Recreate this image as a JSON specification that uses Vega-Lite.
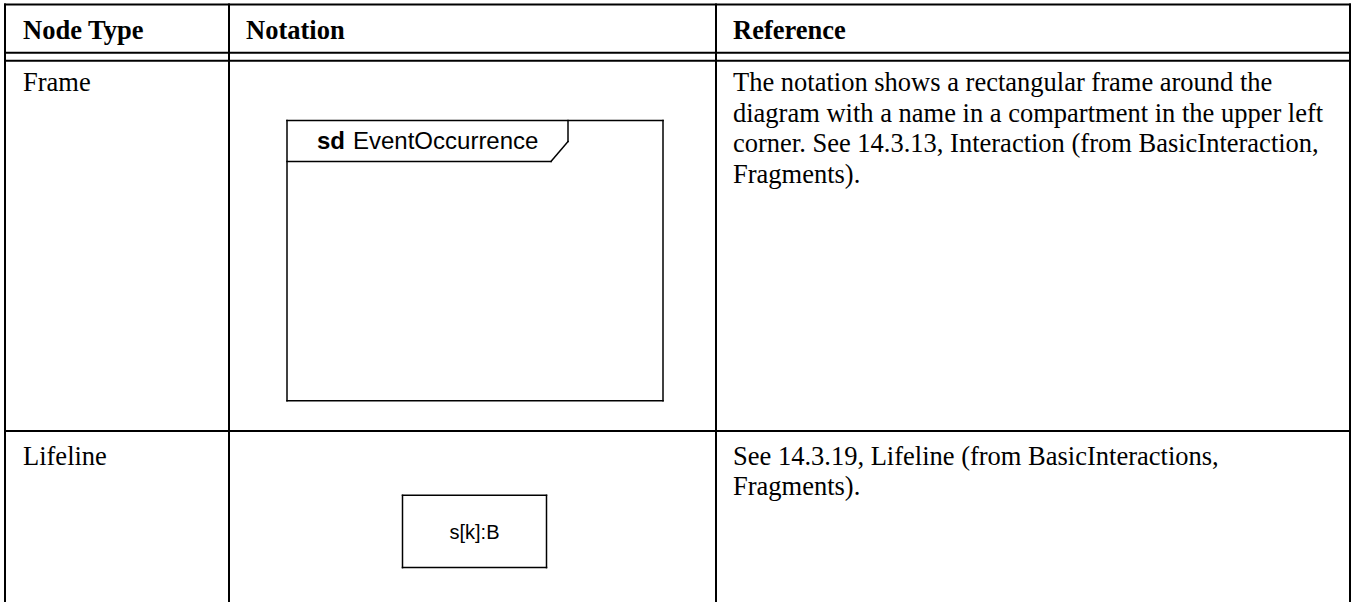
{
  "$schema": "https://vega.github.io/schema/vega-lite/v6.json",
  "width": 1354,
  "height": 603,
  "padding": 0,
  "autosize": {"type": "fit", "contains": "padding"},
  "background": "white",
  "config": {"view": {"stroke": null}},
  "datasets": {
    "grid": [
      {"x": 5, "x2": 1350, "y": 4.5, "y2": 4.5},
      {"x": 5, "x2": 1350, "y": 53, "y2": 53},
      {"x": 5, "x2": 1350, "y": 61, "y2": 61},
      {"x": 5, "x2": 1350, "y": 432.5, "y2": 432.5},
      {"x": 5, "x2": 5, "y": 4.5, "y2": 603},
      {"x": 229, "x2": 229, "y": 4.5, "y2": 603},
      {"x": 716, "x2": 716, "y": 4.5, "y2": 603},
      {"x": 1350, "x2": 1350, "y": 4.5, "y2": 603}
    ],
    "shapes": [
      {"x": 287, "x2": 663, "y": 121, "y2": 121},
      {"x": 287, "x2": 663, "y": 402, "y2": 402},
      {"x": 287, "x2": 287, "y": 121, "y2": 402},
      {"x": 663, "x2": 663, "y": 121, "y2": 402},
      {"x": 287, "x2": 551, "y": 162, "y2": 162},
      {"x": 568, "x2": 568, "y": 121, "y2": 142},
      {"x": 568, "x2": 551, "y": 142, "y2": 162},
      {"x": 402.5, "x2": 546.5, "y": 497, "y2": 497},
      {"x": 402.5, "x2": 546.5, "y": 569.5, "y2": 569.5},
      {"x": 402.5, "x2": 402.5, "y": 497, "y2": 569.5},
      {"x": 546.5, "x2": 546.5, "y": 497, "y2": 569.5}
    ],
    "header": [
      {"text": "Node Type", "x": 23, "y": 39},
      {"text": "Notation", "x": 246, "y": 39},
      {"text": "Reference", "x": 733, "y": 39}
    ],
    "body": [
      {"text": "Frame", "x": 23, "y": 91},
      {"text": "The notation shows a rectangular frame around the", "x": 733, "y": 91},
      {"text": "diagram with a name in a compartment in the upper left", "x": 733, "y": 122},
      {"text": "corner. See 14.3.13, Interaction (from BasicInteraction,", "x": 733, "y": 153},
      {"text": "Fragments).", "x": 733, "y": 184},
      {"text": "Lifeline", "x": 23, "y": 467},
      {"text": "See 14.3.19, Lifeline (from BasicInteractions,", "x": 733, "y": 467},
      {"text": "Fragments).", "x": 733, "y": 497}
    ],
    "diagramBold": [
      {"text": "sd", "x": 317, "y": 149}
    ],
    "diagramText": [
      {"text": "EventOccurrence", "x": 353, "y": 149}
    ],
    "lifeline": [
      {"text": "s[k]:B", "x": 474.5, "y": 541}
    ]
  },
  "layer": [
    {
      "data": {"name": "grid"},
      "mark": {"type": "rule", "stroke": "black", "strokeWidth": 2, "strokeCap": "square"},
      "encoding": {
        "x": {"field": "x", "type": "quantitative", "scale": {"domain": [0, 1354], "nice": false, "zero": false}, "axis": null},
        "x2": {"field": "x2"},
        "y": {"field": "y", "type": "quantitative", "scale": {"domain": [0, 603], "nice": false, "zero": false, "reverse": true}, "axis": null},
        "y2": {"field": "y2"}
      }
    },
    {
      "data": {"name": "shapes"},
      "mark": {"type": "rule", "stroke": "black", "strokeWidth": 1.5, "strokeCap": "square"},
      "encoding": {
        "x": {"field": "x", "type": "quantitative", "scale": {"domain": [0, 1354], "nice": false, "zero": false}, "axis": null},
        "x2": {"field": "x2"},
        "y": {"field": "y", "type": "quantitative", "scale": {"domain": [0, 603], "nice": false, "zero": false, "reverse": true}, "axis": null},
        "y2": {"field": "y2"}
      }
    },
    {
      "data": {"name": "header"},
      "mark": {"type": "text", "align": "left", "baseline": "alphabetic", "font": "Liberation Serif", "fontWeight": "bold", "fontSize": 26.5, "color": "black"},
      "encoding": {
        "x": {"field": "x", "type": "quantitative", "scale": {"domain": [0, 1354], "nice": false, "zero": false}, "axis": null},
        "y": {"field": "y", "type": "quantitative", "scale": {"domain": [0, 603], "nice": false, "zero": false, "reverse": true}, "axis": null},
        "text": {"field": "text"}
      }
    },
    {
      "data": {"name": "body"},
      "mark": {"type": "text", "align": "left", "baseline": "alphabetic", "font": "Liberation Serif", "fontSize": 26.5, "color": "black"},
      "encoding": {
        "x": {"field": "x", "type": "quantitative", "scale": {"domain": [0, 1354], "nice": false, "zero": false}, "axis": null},
        "y": {"field": "y", "type": "quantitative", "scale": {"domain": [0, 603], "nice": false, "zero": false, "reverse": true}, "axis": null},
        "text": {"field": "text"}
      }
    },
    {
      "data": {"name": "diagramBold"},
      "mark": {"type": "text", "align": "left", "baseline": "alphabetic", "font": "Liberation Sans", "fontWeight": "bold", "fontSize": 24, "color": "black"},
      "encoding": {
        "x": {"field": "x", "type": "quantitative", "scale": {"domain": [0, 1354], "nice": false, "zero": false}, "axis": null},
        "y": {"field": "y", "type": "quantitative", "scale": {"domain": [0, 603], "nice": false, "zero": false, "reverse": true}, "axis": null},
        "text": {"field": "text"}
      }
    },
    {
      "data": {"name": "diagramText"},
      "mark": {"type": "text", "align": "left", "baseline": "alphabetic", "font": "Liberation Sans", "fontSize": 24, "color": "black"},
      "encoding": {
        "x": {"field": "x", "type": "quantitative", "scale": {"domain": [0, 1354], "nice": false, "zero": false}, "axis": null},
        "y": {"field": "y", "type": "quantitative", "scale": {"domain": [0, 603], "nice": false, "zero": false, "reverse": true}, "axis": null},
        "text": {"field": "text"}
      }
    },
    {
      "data": {"name": "lifeline"},
      "mark": {"type": "text", "align": "center", "baseline": "alphabetic", "font": "Liberation Sans", "fontSize": 20, "color": "black"},
      "encoding": {
        "x": {"field": "x", "type": "quantitative", "scale": {"domain": [0, 1354], "nice": false, "zero": false}, "axis": null},
        "y": {"field": "y", "type": "quantitative", "scale": {"domain": [0, 603], "nice": false, "zero": false, "reverse": true}, "axis": null},
        "text": {"field": "text"}
      }
    }
  ]
}
